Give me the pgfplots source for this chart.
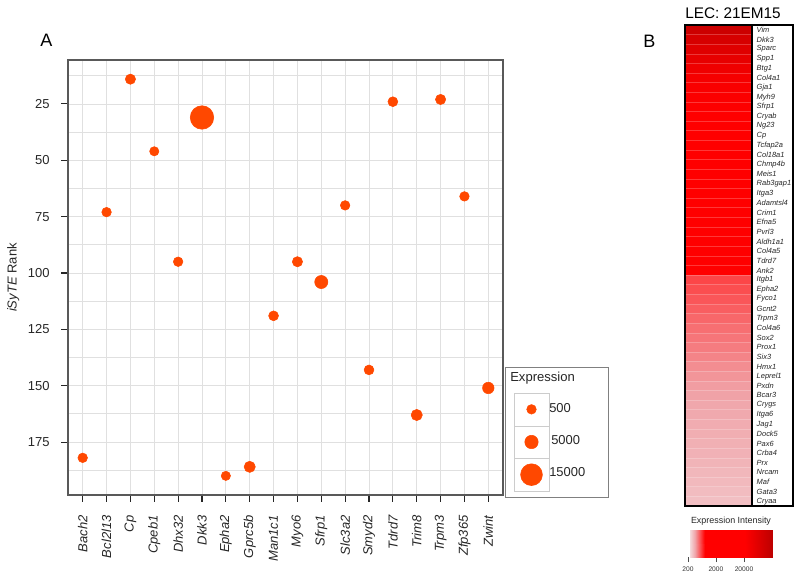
\documentclass[border=0pt]{standalone}
\usepackage{fontspec}
\setmainfont{Liberation Sans}
\usepackage{pgfplots}
\pgfplotsset{compat=1.18}
\definecolor{dot}{RGB}{255,72,0}
\pgfplotsset{colormap={lec}{rgb255(0cm)=(244,218,220); rgb255(0.6cm)=(240,165,170); rgb255(1.3cm)=(252,70,72); rgb255(1.8cm)=(255,0,0); rgb255(6.7cm)=(255,0,0); rgb255(10cm)=(190,0,0)}}
\begin{document}
\begin{tikzpicture}
\path[use as bounding box] (0pt,0pt) rectangle (600pt,-431.25pt);
% ---------------- Panel A ----------------
\begin{axis}[
  at={(51pt,-45pt)}, anchor=north west,
  scale only axis, width=326.25pt, height=326.25pt,
  /pgf/number format/assume math mode=true,
  xmin=-0.616, xmax=17.616, ymin=5.5, ymax=198.5, y dir=reverse,
  xtick={0,...,17},
  xticklabels={Bach2,Bcl2l13,Cp,Cpeb1,Dhx32,Dkk3,Epha2,Gprc5b,Man1c1,Myo6,Sfrp1,Slc3a2,Smyd2,Tdrd7,Trim8,Trpm3,Zfp365,Zwint},
  ytick={25,50,75,100,125,150,175},
  minor ytick={12.5,37.5,62.5,87.5,112.5,137.5,162.5,187.5},
  xmajorgrids, ymajorgrids, yminorgrids,
  major grid style={draw=black!12, line width=0.6pt},
  minor grid style={draw=black!12, line width=0.6pt},
  axis line style={draw=black!65, line width=1.1pt},
  tick pos=left, tick align=outside,
  major tick length=5pt, minor tick length=0pt,
  tick style={draw=black!85, line width=0.8pt},
  ticklabel style={font=\fontsize{9.75}{11}\selectfont, text=black!85},
  yticklabel shift=5.25pt,
  xticklabel shift=6.75pt,
  xticklabel style={font=\fontsize{9.75}{11}\selectfont\itshape, rotate=90, anchor=east},
  ylabel={\textit{iSyTE} Rank},
  ylabel style={at={(axis description cs:-0.126,0.5)}, anchor=center, font=\fontsize{9.75}{11}\selectfont, text=black!85},
]
\addplot[scatter, only marks, mark=*,
  scatter/use mapped color={draw=dot, fill=dot},
  visualization depends on={0.36*\thisrow{d} \as \msize},
  scatter/@pre marker code/.append style={/tikz/mark size=\msize}]
  table[x=x, y=rank] {
x rank d
0 182 10
1 73 10
2 14 10.7
3 46 9.7
4 95 10
5 31 24.5
6 190 9.7
7 186 11.7
8 119 10.3
9 95 10.7
10 104 13.7
11 70 10
12 143 10.3
13 24 10.3
14 163 11.7
15 23 10.7
16 66 10
17 151 12
};
\end{axis}
% ---------------- Legend (size key) ----------------
\draw[draw=black!50, line width=0.75pt] (378.75pt,-275.25pt) rectangle (456pt,-372.75pt);
\draw[draw=black!20, line width=0.75pt] (385.5pt,-294.75pt) rectangle (411.75pt,-368.25pt);
\draw[draw=black!20, line width=0.75pt] (385.5pt,-319.5pt) -- (411.75pt,-319.5pt);
\draw[draw=black!20, line width=0.75pt] (385.5pt,-343.5pt) -- (411.75pt,-343.5pt);
\begin{axis}[
  at={(385.5pt,-294.75pt)}, anchor=north west,
  scale only axis, width=26.25pt, height=73.5pt,
  xmin=0, xmax=1, ymin=0, ymax=3, y dir=reverse,
  hide axis, clip=false]
\addplot[scatter, only marks, mark=*,
  scatter/use mapped color={draw=dot, fill=dot},
  visualization depends on={0.36*\thisrow{d} \as \msize},
  scatter/@pre marker code/.append style={/tikz/mark size=\msize}]
  table[x=x, y=y] {
x y d
0.5 0.5 10
0.5 1.5 14
0.5 2.5 22.7
};
\end{axis}
\node[anchor=base west, inner sep=0pt, font=\fontsize{9.8}{11}\selectfont, text=black!85] at (382.5pt,-285.75pt) {Expression};
\node[anchor=west, inner sep=0pt, font=\fontsize{9.7}{11}\selectfont, text=black!85] at (411.75pt,-306pt) {500};
\node[anchor=west, inner sep=0pt, font=\fontsize{9.7}{11}\selectfont, text=black!85] at (413.25pt,-330.4pt) {5000};
\node[anchor=west, inner sep=0pt, font=\fontsize{9.7}{11}\selectfont, text=black!85] at (411.75pt,-354.4pt) {15000};
% ---------------- Panel labels ----------------
\node[anchor=base west, inner sep=0pt, font=\fontsize{13.5}{15}\selectfont] at (30pt,-34.5pt) {A};
\node[anchor=base west, inner sep=0pt, font=\fontsize{13.5}{15}\selectfont] at (482.25pt,-35.25pt) {B};
\node[anchor=base west, inner sep=0pt, font=\fontsize{11.5}{13}\selectfont] at (513.75pt,-13.5pt) {LEC: 21EM15};
% ---------------- Panel B heatmap ----------------
\begin{axis}[
  at={(513.75pt,-18.75pt)}, anchor=north west,
  scale only axis, width=50.25pt, height=360.75pt,
  xmin=-0.5, xmax=1.5, ymin=-0.5, ymax=49.5, y dir=reverse,
  xtick=\empty, ytick={0,...,49},
  yticklabels={Vim,Dkk3,Sparc,Spp1,Btg1,Col4a1,Gja1,Myh9,Sfrp1,Cryab,Ng23,Cp,Tcfap2a,Col18a1,Chmp4b,Meis1,Rab3gap1,Itga3,Adamtsl4,Crim1,Efna5,Pvrl3,Aldh1a1,Col4a5,Tdrd7,Ank2,Itgb1,Epha2,Fyco1,Gcnt2,Trpm3,Col4a6,Sox2,Prox1,Six3,Hmx1,Leprel1,Pxdn,Bcar3,Crygs,Itga6,Jag1,Dock5,Pax6,Crba4,Prx,Nrcam,Maf,Gata3,Cryaa},
  yticklabel pos=right,
  major tick length=0pt, minor tick length=0pt,
  ytick style={draw=none},
  yticklabel style={font=\fontsize{5.6}{6}\selectfont\itshape, text=black!85},
  minor ytick={0.5,1.5,...,48.5}, yminorgrids,
  minor grid style={draw=white, opacity=0.22, line width=0.5pt},
  axis on top, axis line style={draw=black, line width=1.1pt},
  colormap name=lec,
  point meta min=0, point meta max=1000,
]
\addplot[matrix plot*, mesh/cols=2, point meta=explicit] table[x=x, y=y, meta=c] {
x y c
0 0 930
1 0 930
0 1 880
1 1 880
0 2 830
1 2 830
0 3 790
1 3 790
0 4 750
1 4 750
0 5 720
1 5 720
0 6 700
1 6 700
0 7 690
1 7 690
0 8 680
1 8 680
0 9 665
1 9 665
0 10 600
1 10 600
0 11 600
1 11 600
0 12 600
1 12 600
0 13 600
1 13 600
0 14 600
1 14 600
0 15 600
1 15 600
0 16 600
1 16 600
0 17 600
1 17 600
0 18 600
1 18 600
0 19 600
1 19 600
0 20 600
1 20 600
0 21 600
1 21 600
0 22 600
1 22 600
0 23 600
1 23 600
0 24 600
1 24 600
0 25 600
1 25 600
0 26 130
1 26 130
0 27 124
1 27 124
0 28 118
1 28 118
0 29 112
1 29 112
0 30 106
1 30 106
0 31 100
1 31 100
0 32 95
1 32 95
0 33 90
1 33 90
0 34 84
1 34 84
0 35 78
1 35 78
0 36 72
1 36 72
0 37 66
1 37 66
0 38 62
1 38 62
0 39 58
1 39 58
0 40 55
1 40 55
0 41 52
1 41 52
0 42 50
1 42 50
0 43 48
1 43 48
0 44 46
1 44 46
0 45 43
1 45 43
0 46 40
1 46 40
0 47 37
1 47 37
0 48 34
1 48 34
0 49 30
1 49 30
};
\end{axis}
\draw[draw=black, line width=1.1pt] (564pt,-18.75pt) rectangle (594.75pt,-379.5pt);
% ---------------- Colour scale ----------------
\node[anchor=base, inner sep=0pt, font=\fontsize{6.7}{8}\selectfont, text=black!85] at (548.25pt,-392.25pt) {Expression Intensity};
\begin{axis}[
  at={(515.6pt,-397.5pt)}, anchor=north west,
  scale only axis, width=63.4pt, height=20.25pt,
  xmin=-30, xmax=1000, ymin=0, ymax=1,
  axis line style={draw=none},
  ytick=\empty,
  xtick={-24,317,659}, xticklabels={200,2000,20000},
  xtick pos=left, xticklabel pos=left, xtick align=outside,
  major tick length=3.75pt,
  xtick style={draw=black!70, line width=0.6pt},
  xticklabel style={font=\fontsize{5}{6}\selectfont, text=black!80},
  colormap name=lec, point meta min=0, point meta max=1000,
]
\addplot[surf, shader=interp, mesh/rows=2, point meta=x] coordinates {(0,0) (1000,0) (0,1) (1000,1)};
\end{axis}
\end{tikzpicture}
\end{document}
